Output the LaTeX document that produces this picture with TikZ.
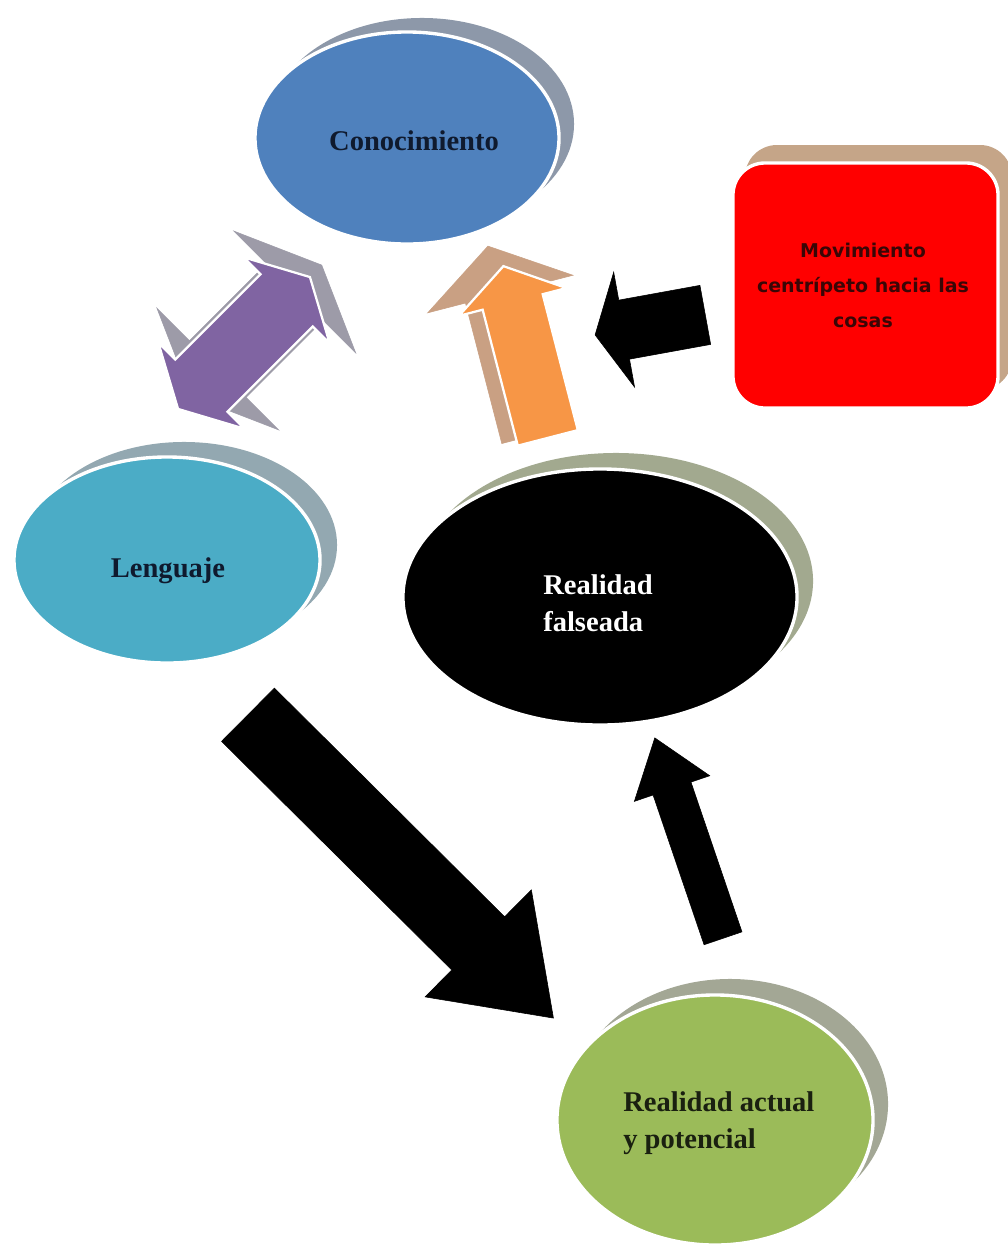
\documentclass[tikz,border=0pt]{standalone}
\usepackage{fontspec}
\setmainfont{Liberation Serif}
\newfontfamily\boxfont{DejaVu Sans}
\usetikzlibrary{shapes.geometric}
\definecolor{conblue}{HTML}{4F81BD}
\definecolor{conshadow}{HTML}{8D98A9}
\definecolor{lenblue}{HTML}{4BACC6}
\definecolor{lenshadow}{HTML}{93A8B1}
\definecolor{falshadow}{HTML}{A2A98F}
\definecolor{realgreen}{HTML}{9BBB59}
\definecolor{realshadow}{HTML}{A3A795}
\definecolor{boxred}{HTML}{FF0000}
\definecolor{boxshadow}{HTML}{C5A588}
\definecolor{purp}{HTML}{8064A2}
\definecolor{purpshadow}{HTML}{9D9BA8}
\definecolor{orng}{HTML}{F79646}
\definecolor{orngshadow}{HTML}{C9A083}
\definecolor{navytext}{HTML}{0F1A2E}
\definecolor{greentext}{HTML}{1A2010}
\definecolor{boxtext}{HTML}{3A0606}
% single block arrow: style, cx, cy, angle, half length, head length, half shaft, half head
\newcommand\blkarrow[8]{\filldraw[#1, shift={(#2,#3)}, rotate=#4]
  (#5,0) -- (#5-#6,#8) -- (#5-#6,#7) -- (-#5,#7) -- (-#5,-#7) -- (#5-#6,-#7) -- (#5-#6,-#8) -- cycle;}
% double block arrow
\newcommand\dblkarrow[8]{\filldraw[#1, shift={(#2,#3)}, rotate=#4]
  (#5,0) -- (#5-#6,#8) -- (#5-#6,#7) -- (-#5+#6,#7) -- (-#5+#6,#8) -- (-#5,0)
  -- (-#5+#6,-#8) -- (-#5+#6,-#7) -- (#5-#6,-#7) -- (#5-#6,-#8) -- cycle;}
\begin{document}
\begin{tikzpicture}[x=0.025cm,y=-0.025cm,
  rim/.style={draw=white, line width=2.4pt},
  oval/.style={ellipse, rim, inner sep=0pt},
  lbl/.style={inner sep=0pt, align=left, font=\fontsize{20.3}{26.3}\selectfont\bfseries}]
\path[use as bounding box, fill=white] (0,0) rectangle (1008,1252);

% Conocimiento
\fill[conshadow] (422,124) ellipse [x radius=3.8cm, y radius=2.65cm];
\node[oval, fill=conblue, minimum width=7.6cm, minimum height=5.3cm] (con) at (407,138) {};
\node[lbl, text=navytext, anchor=base] (cont) at (414,150) {Conocimiento};

% Lenguaje
\fill[lenshadow] (184,545) ellipse [x radius=3.825cm, y radius=2.575cm];
\node[oval, fill=lenblue, minimum width=7.65cm, minimum height=5.15cm] (len) at (167,560) {};
\node[lbl, text=navytext, anchor=base] (lent) at (168,577) {Lenguaje};

% Realidad falseada
\fill[falshadow] (616,581) ellipse [x radius=4.925cm, y radius=3.2cm];
\node[oval, fill=black, minimum width=9.85cm, minimum height=6.4cm] (fal) at (600,597) {};
\node[lbl, text=white, anchor=north west] (falt) at (543,574) {Realidad\\falseada};

% Realidad actual y potencial
\fill[realshadow] (730,1104) ellipse [x radius=3.95cm, y radius=3.125cm];
\node[oval, fill=realgreen, minimum width=7.9cm, minimum height=6.25cm] (real) at (715,1120) {};
\node[lbl, text=greentext, anchor=north west] (realt) at (623,1091) {Realidad actual\\y potencial};

% Movimiento box
\fill[boxshadow, rounded corners=0.8cm] (745,145) rectangle (1012,390);
\node[rectangle, rim, rounded corners=0.8cm, fill=boxred, minimum width=6.625cm, minimum height=6.125cm, inner sep=0pt] (mov) at (865.5,285.5) {};
\node[inner sep=0pt, align=center, anchor=north, text=boxtext,
      font=\boxfont\bfseries\fontsize{13.5}{24.9}\selectfont] (movt) at (863,243)
      {Movimiento\\centrípeto hacia las\\cosas};

% Block arrows
\dblkarrow{purpshadow}{256.3}{330.5}{45}{92.5}{38}{40}{86}
\dblkarrow{purp, rim, line width=1.6pt}{244}{343}{45}{93.25}{33}{37}{61}
\blkarrow{orngshadow}{512.3}{340.3}{104.5}{97.3}{49.5}{36}{75}
\blkarrow{orng, rim, line width=1.6pt}{525.6}{352}{104.5}{88.7}{37}{31}{55.5}
\blkarrow{black}{650.2}{324.9}{190.3}{56}{29.5}{30}{58.4}
\blkarrow{black}{400.7}{866.4}{-44.8}{215.25}{106}{37.5}{75.4}
\blkarrow{black}{688.9}{838.1}{108.8}{105.85}{53.5}{20}{39.8}
\end{tikzpicture}
\end{document}
